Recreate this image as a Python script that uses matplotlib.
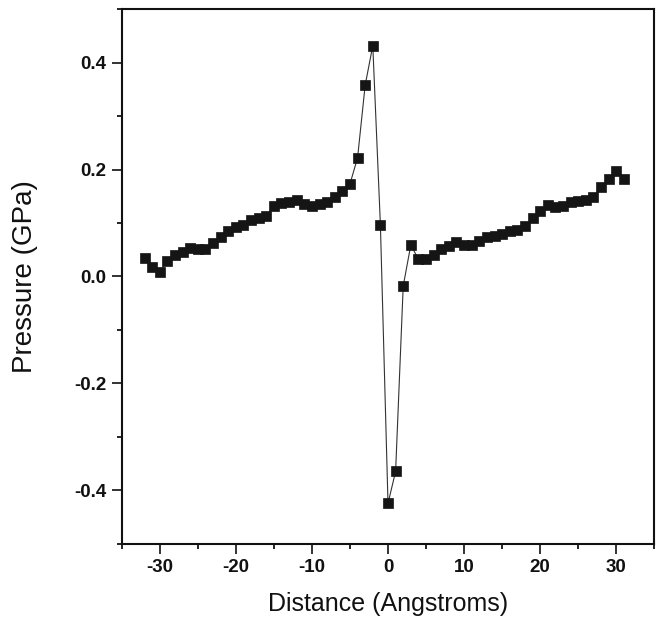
import matplotlib
matplotlib.use("Agg")
import matplotlib.pyplot as plt
from matplotlib.ticker import MultipleLocator, FixedLocator

# Data
distance = list(range(-32, 32))
pressure = [
    0.035, 0.018, 0.009, 0.029, 0.040, 0.046, 0.054, 0.051, 0.052, 0.062,
    0.074, 0.085, 0.092, 0.096, 0.106, 0.110, 0.114, 0.131, 0.137, 0.140,
    0.143, 0.136, 0.132, 0.136, 0.140, 0.149, 0.159, 0.173, 0.222, 0.358,
    0.432, 0.097, -0.425, -0.365, -0.018, 0.059, 0.032, 0.032, 0.040, 0.051,
    0.056, 0.065, 0.058, 0.058, 0.067, 0.073, 0.076, 0.079, 0.085, 0.087,
    0.094, 0.109, 0.123, 0.134, 0.129, 0.132, 0.139, 0.142, 0.143, 0.149,
    0.168, 0.182, 0.198, 0.182,
]
x_ticks = [-30, -20, -10, 0, 10, 20, 30]
y_ticks = [-0.4, -0.2, 0.0, 0.2, 0.4]

plt.rcParams['axes.unicode_minus'] = False
plt.rcParams['font.family'] = ['Liberation Sans', 'DejaVu Sans']

W, H = 657, 618
fig = plt.figure(figsize=(W / 100, H / 100), dpi=100)
left, right, top, bottom = 121.7, 654.3, 9.3, 543.5
ax = fig.add_axes([left / W, 1 - bottom / H, (right - left) / W, (bottom - top) / H])

ax.plot(distance, pressure, color='#333333', linewidth=0.8,
        marker='s', markersize=7.8, markerfacecolor='#151515',
        markeredgecolor='#151515', markeredgewidth=0.5)

ax.set_xlim(-35, 35)
ax.set_ylim(-0.5, 0.5)
ax.xaxis.set_major_locator(FixedLocator(x_ticks))
ax.yaxis.set_major_locator(FixedLocator(y_ticks))
ax.xaxis.set_minor_locator(MultipleLocator(5))
ax.yaxis.set_minor_locator(MultipleLocator(0.1))
ax.set_xticklabels([f"{v:d}" for v in x_ticks])
ax.set_yticklabels([f"{v:.1f}" for v in y_ticks])

for s in ax.spines.values():
    s.set_linewidth(1.5)
    s.set_color('#111111')

ax.tick_params(which='major', direction='out', length=7, width=1.2, pad=4,
               labelsize=13.5, colors='#111111')
ax.tick_params(which='minor', direction='out', length=3.5, width=1.2)
ax.tick_params(top=False, right=False, which='both')
for lbl in ax.get_xticklabels() + ax.get_yticklabels():
    lbl.set_fontweight('bold')

ax.set_xlabel('Distance (Angstroms)', fontsize=18, color='#111111')
ax.set_ylabel('Pressure (GPa)', fontsize=20, color='#111111')
ax.xaxis.set_label_coords(0.5, -0.09)
ax.yaxis.set_label_coords(-0.158, 0.5)

fig.savefig('out.png', dpi=100)
